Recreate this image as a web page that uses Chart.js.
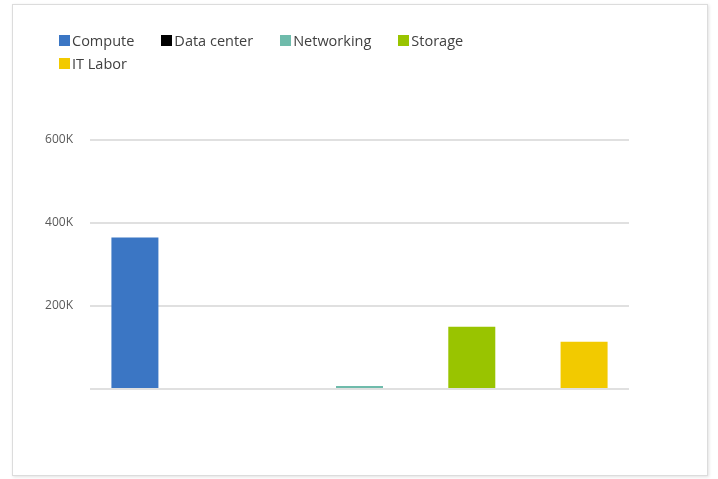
<!DOCTYPE html>
<html>
<head>
<meta charset="utf-8">
<script src="https://cdn.jsdelivr.net/npm/chart.js@4"></script>
<style>
  body { margin: 0; background: #fff; }
  #frame {
    position: absolute; left: 12px; top: 4px; width: 694px; height: 470px;
    border: 1px solid #dcdcdc; box-shadow: 1px 1px 3px rgba(0,0,0,0.12);
  }
  #wrap { position: absolute; left: 0; top: 0; width: 718px; height: 479px; }
  #legend {
    position: absolute; left: 59px; top: 30px; width: 440px;
    display: flex; flex-wrap: wrap; column-gap: 27px; row-gap: 2px;
    font-family: "Open Sans", sans-serif; font-size: 14.5px; color: #404040;
  }
  #legend .item { display: flex; align-items: center; height: 21px; }
  #legend .box { width: 11px; height: 11px; margin-right: 2px; }
</style>
</head>
<body>
<div id="frame"></div>
<div id="wrap"><canvas id="myChart" width="718" height="479"></canvas></div>
<div id="legend"></div>
<script>
const categories = ['Compute', 'Data center', 'Networking', 'Storage', 'IT Labor']
const costs = [365000, 0, 7000, 150000, 114000]
const colors = ['#3b76c4', '#000000', '#6fbbab', '#99c400', '#f2ca00']
const yTicks = [0, 200000, 400000, 600000]

const datasets = categories.map((name, i) => ({
    label: name,
    data: [{ x: i, y: costs[i] }],
    backgroundColor: colors[i],
    barThickness: 47,
    inflateAmount: 0,
    grouped: false
}))

const ctx = document.getElementById('myChart')
const chart = new Chart(ctx, {
    type: 'bar',
    data: { datasets: datasets },
    options: {
        responsive: false,
        animation: false,
        layout: { padding: { left: 0, right: 89, top: 140, bottom: 90 } },
        scales: {
            x: {
                type: 'linear',
                offset: false,
                min: -0.4,
                max: categories.length - 0.6,
                display: false
            },
            y: {
                min: 0,
                max: 600000,
                afterFit: (scale) => { scale.width = 90 },
                afterBuildTicks: (scale) => { scale.ticks = yTicks.map(v => ({ value: v })) },
                border: { display: false },
                grid: { color: '#e0e0e0', lineWidth: 2, drawTicks: false },
                ticks: {
                    padding: 17,
                    color: '#595959',
                    font: { family: 'Open Sans', size: 12 },
                    callback: (v) => v === 0 ? '' : (v / 1000) + 'K'
                }
            }
        },
        plugins: {
            legend: { display: false },
            tooltip: { enabled: false }
        }
    }
})

// html legend built from the chart's own legend items
const legendEl = document.getElementById('legend')
chart.options.plugins.legend.labels.generateLabels(chart).forEach(item => {
    const el = document.createElement('div')
    el.className = 'item'
    const box = document.createElement('span')
    box.className = 'box'
    box.style.background = item.fillStyle
    el.appendChild(box)
    el.appendChild(document.createTextNode(item.text))
    legendEl.appendChild(el)
})
</script>
</body>
</html>
